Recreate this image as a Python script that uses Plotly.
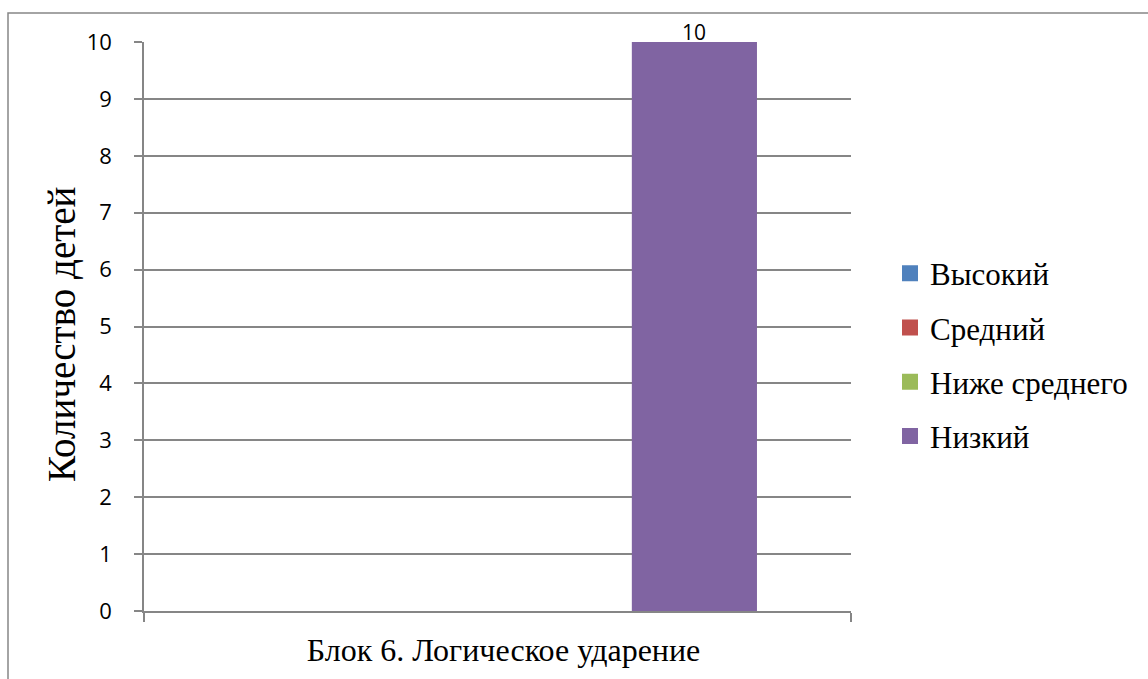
import plotly.graph_objects as go

categories = ["Блок 6. Логическое ударение"]
series_names = ["Высокий", "Средний", "Ниже среднего", "Низкий"]
series_values = [[0], [0], [0], [10]]
series_colors = ["#4F81BD", "#C0504D", "#9BBB59", "#8064A2"]
y_ticks = list(range(0, 11))

L, R, T, B = 144, 297, 42, 68
W, H = 1148, 679
pw, ph = W - L - R, H - T - B

bar_w = 0.177
offsets = [-0.341, -0.164, 0.013, 0.190]

fig = go.Figure()
for i, (name, vals, col, off) in enumerate(zip(series_names, series_values, series_colors, offsets)):
    fig.add_trace(go.Bar(
        x=categories, y=vals, name=name, showlegend=False,
        marker=dict(color=col, line=dict(width=0)),
        width=bar_w, offset=off,
    ))
    # legend entry with a larger square swatch
    fig.add_trace(go.Scatter(
        x=[None], y=[None], mode="markers", name=name, legendgroup=f"g{i}",
        marker=dict(symbol="square", size=16, color=col),
        showlegend=True,
    ))

fig.update_layout(
    width=W, height=H,
    margin=dict(l=L, r=R, t=T, b=B),
    paper_bgcolor="white", plot_bgcolor="white",
    barmode="group",
    showlegend=True,
    legend=dict(
        x=(890 - L) / pw, xanchor="left",
        y=(611 - 355) / ph, yanchor="middle",
        font=dict(family="Liberation Serif, Times New Roman", size=31, color="#000000"),
        itemwidth=30, tracegroupgap=11, traceorder="grouped", itemsizing="trace",
        bgcolor="rgba(0,0,0,0)",
    ),
    xaxis=dict(
        type="category",
        showline=True, linecolor="#868686", linewidth=1.5,
        ticks="outside", tickson="boundaries", ticklen=9, tickcolor="#868686", tickwidth=1.5,
        ticklabelstandoff=10, ticklabelshift=6,
        tickfont=dict(family="Liberation Serif, Times New Roman", size=32, color="#000000"),
        showgrid=False,
        range=[-0.5, 0.5],
    ),
    yaxis=dict(
        range=[0, 10], tickvals=y_ticks,
        showline=True, linecolor="#868686", linewidth=1.5,
        ticks="outside", ticklen=8, tickcolor="#868686", tickwidth=1.5,
        ticklabelstandoff=18,
        showgrid=True, gridcolor="#868686", gridwidth=1.5,
        zeroline=False,
        tickfont=dict(family="Open Sans, Arial", size=22, color="#000000"),
    ),
    shapes=[dict(
        type="rect", xref="paper", yref="paper",
        x0=(8 - L) / pw, x1=1.6, y0=-0.3, y1=1 + (T - 13) / ph,
        line=dict(color="#868686", width=1.5), fillcolor="rgba(0,0,0,0)", layer="below",
    )],
)

# data label on the "Низкий" bar
low_idx = series_names.index("Низкий")
for c, v in zip(categories, series_values[low_idx]):
    fig.add_annotation(
        x=c, y=v, text=str(v), showarrow=False,
        xanchor="center", yanchor="bottom", yshift=-6,
        xshift=(offsets[low_idx] + bar_w / 2) * pw,
        font=dict(family="Open Sans, Arial", size=21, color="#000000"),
    )

# y-axis title
fig.add_annotation(
    text="Количество детей", xref="paper", yref="paper",
    x=(62 - L) / pw, y=(611 - 335) / ph, textangle=-90, showarrow=False,
    xanchor="center", yanchor="middle",
    font=dict(family="Liberation Serif, Times New Roman", size=39, color="#000000"),
)

fig.write_html("out.html", config={"displayModeBar": False},
               post_script="document.body.style.margin='0';document.body.style.overflow='hidden';")
